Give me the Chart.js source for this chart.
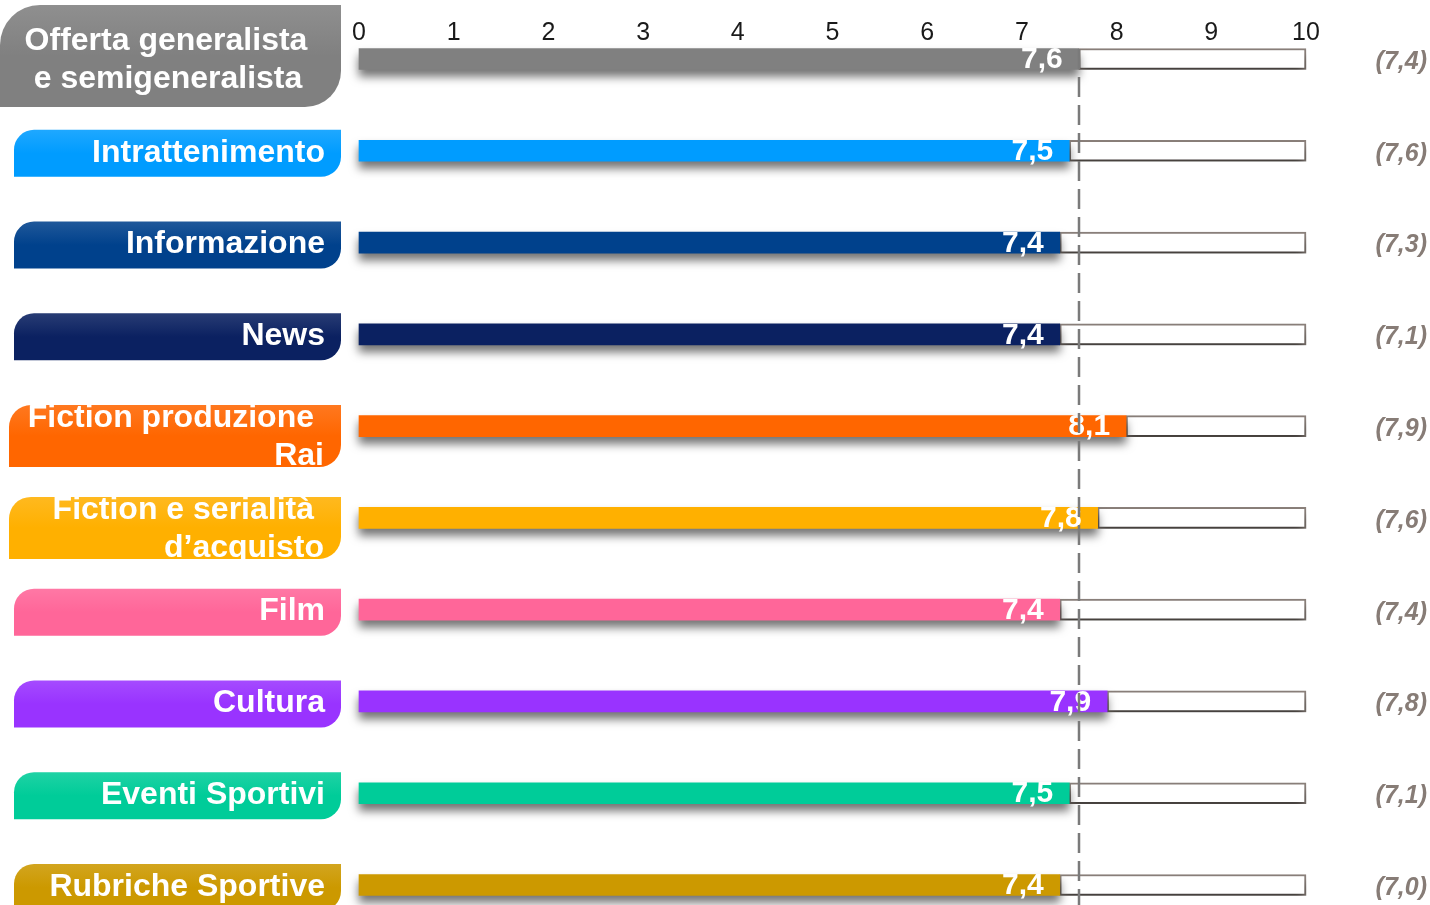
<!DOCTYPE html>
<html>
<head>
<meta charset="utf-8">
<script src="https://cdn.jsdelivr.net/npm/chart.js@4"></script>
<style>
  html, body { margin: 0; padding: 0; background: #fff; overflow: hidden; }
</style>
</head>
<body>
<canvas id="gradimento" width="1430" height="905"></canvas>
<script>
const categories = [
  ["Offerta generalista", "e semigeneralista"],
  ["Intrattenimento"],
  ["Informazione"],
  ["News"],
  ["Fiction produzione", "Rai"],
  ["Fiction e serialità", "d’acquisto"],
  ["Film"],
  ["Cultura"],
  ["Eventi Sportivi"],
  ["Rubriche Sportive"]
];
const scores = [7.6, 7.5, 7.4, 7.4, 8.1, 7.8, 7.4, 7.9, 7.5, 7.4];
const previousScores = [7.4, 7.6, 7.3, 7.1, 7.9, 7.6, 7.4, 7.8, 7.1, 7.0];
const colors = ["#808080", "#009cff", "#00418c", "#0b2161", "#ff6600", "#ffb000", "#ff6699", "#9933ff", "#00cc99", "#cc9900"];
const scaleMax = 10;

const FONT = '"Liberation Sans", Arial, sans-serif';
const fmt = v => v.toFixed(1).replace(".", ",");

function lighten(hex, amt) {
  const n = parseInt(hex.slice(1), 16);
  const r = (n >> 16) & 255, g = (n >> 8) & 255, b = n & 255;
  const f = c => Math.round(c + (255 - c) * amt);
  return `rgb(${f(r)},${f(g)},${f(b)})`;
}

// tab shape: rounded top-left and bottom-right corners
function tabPath(ctx, x, y, w, h, r1, r2) {
  ctx.beginPath();
  ctx.moveTo(x + r1, y);
  ctx.lineTo(x + w, y);
  ctx.lineTo(x + w, y + h - r2);
  ctx.arcTo(x + w, y + h, x + w - r2, y + h, r2);
  ctx.lineTo(x, y + h);
  ctx.lineTo(x, y + r1);
  ctx.arcTo(x, y, x + r1, y, r1);
  ctx.closePath();
}

const barShadow = {
  id: "barShadow",
  beforeDatasetDraw(chart) {
    const ctx = chart.ctx;
    ctx.save();
    ctx.shadowColor = "rgba(0,0,0,0.55)";
    ctx.shadowBlur = 10;
    ctx.shadowOffsetY = 7;
  },
  afterDatasetDraw(chart) {
    chart.ctx.restore();
  }
};

const categoryTabs = {
  id: "categoryTabs",
  afterDraw(chart) {
    const ctx = chart.ctx;
    const y = chart.scales.y;
    ctx.save();
    categories.forEach((lines, i) => {
      const c = y.getPixelForValue(i);
      let x, top, w, h, r1, r2;
      if (i === 0) {
        x = 0; top = c - 54; h = 102; r1 = 40; r2 = 36;
      } else if (lines.length > 1) {
        x = 9; top = c - 21; h = 62; r1 = 22; r2 = 22;
      } else {
        x = 14; top = c - 21; h = 47; r1 = 20; r2 = 20;
      }
      w = 341 - x;
      const grad = ctx.createLinearGradient(0, top, 0, top + h);
      grad.addColorStop(0, lighten(colors[i], 0.12));
      grad.addColorStop(0.5, colors[i]);
      grad.addColorStop(1, colors[i]);
      ctx.save();
      tabPath(ctx, x, top, w, h, r1, r2);
      ctx.fillStyle = grad;
      ctx.fill();
      ctx.clip();
      ctx.fillStyle = "#fff";
      ctx.font = `bold 32px ${FONT}`;
      ctx.textBaseline = "middle";
      if (i === 0) {
        ctx.textAlign = "center";
        ctx.fillText(lines[0], 166, c - 18);
        ctx.fillText(lines[1], 168, c + 20);
      } else if (lines.length > 1) {
        ctx.textAlign = "right";
        ctx.fillText(lines[0], 314, c - 8);
        ctx.fillText(lines[1], 324, c + 30);
      } else {
        ctx.textAlign = "right";
        ctx.fillText(lines[0], 325, c + 2);
      }
      ctx.restore();
    });

    // reference line at the overall score
    const xs = chart.scales.x;
    const px = Math.round(xs.getPixelForValue(scores[0]));
    ctx.strokeStyle = "#7a7a7a";
    ctx.lineWidth = 2.5;
    ctx.setLineDash([20, 8]);
    ctx.beginPath();
    ctx.moveTo(px, y.getPixelForValue(0) - 10);
    ctx.lineTo(px, chart.height);
    ctx.stroke();
    ctx.restore();
  }
};

const valueLabels = {
  id: "valueLabels",
  afterDatasetsDraw(chart) {
    const ctx = chart.ctx;
    const meta = chart.getDatasetMeta(0);
    ctx.save();
    ctx.textBaseline = "middle";
    meta.data.forEach((bar, i) => {
      ctx.fillStyle = "#fff";
      ctx.textAlign = "right";
      ctx.font = `bold 30px ${FONT}`;
      ctx.fillText(fmt(scores[i]), bar.x - 16, bar.y + 1);
      ctx.fillStyle = "#877c76";
      ctx.font = `italic bold 25px ${FONT}`;
      ctx.fillText("(" + fmt(previousScores[i]) + ")", 1427, bar.y + 3);
    });
    ctx.restore();
  }
};

new Chart(document.getElementById("gradimento"), {
  type: "bar",
  data: {
    labels: categories,
    datasets: [
      {
        label: "Voto",
        data: scores,
        backgroundColor: colors,
        borderWidth: 0,
        barThickness: 21,
        clip: false,
        order: 1
      },
      {
        label: "Scala",
        data: scores.map(v => [v, scaleMax]),
        backgroundColor: "#ffffff",
        borderColor: "#8c827c",
        borderWidth: 2,
        borderSkipped: false,
        barThickness: 21,
        clip: false,
        order: 2
      }
    ]
  },
  options: {
    indexAxis: "y",
    responsive: false,
    animation: false,
    devicePixelRatio: 1,
    layout: { padding: { left: 359, right: 124, top: 7, bottom: 20 } },
    datasets: { bar: { grouped: false } },
    plugins: { legend: { display: false }, tooltip: { enabled: false } },
    scales: {
      x: {
        position: "top",
        min: 0,
        max: scaleMax,
        grid: { display: false, drawTicks: false },
        border: { display: false },
        ticks: {
          stepSize: 1,
          padding: 11,
          color: "#1a1a1a",
          font: { family: FONT, size: 25 }
        }
      },
      y: {
        display: false,
        offset: false
      }
    }
  },
  plugins: [barShadow, valueLabels, categoryTabs]
});
</script>
</body>
</html>
